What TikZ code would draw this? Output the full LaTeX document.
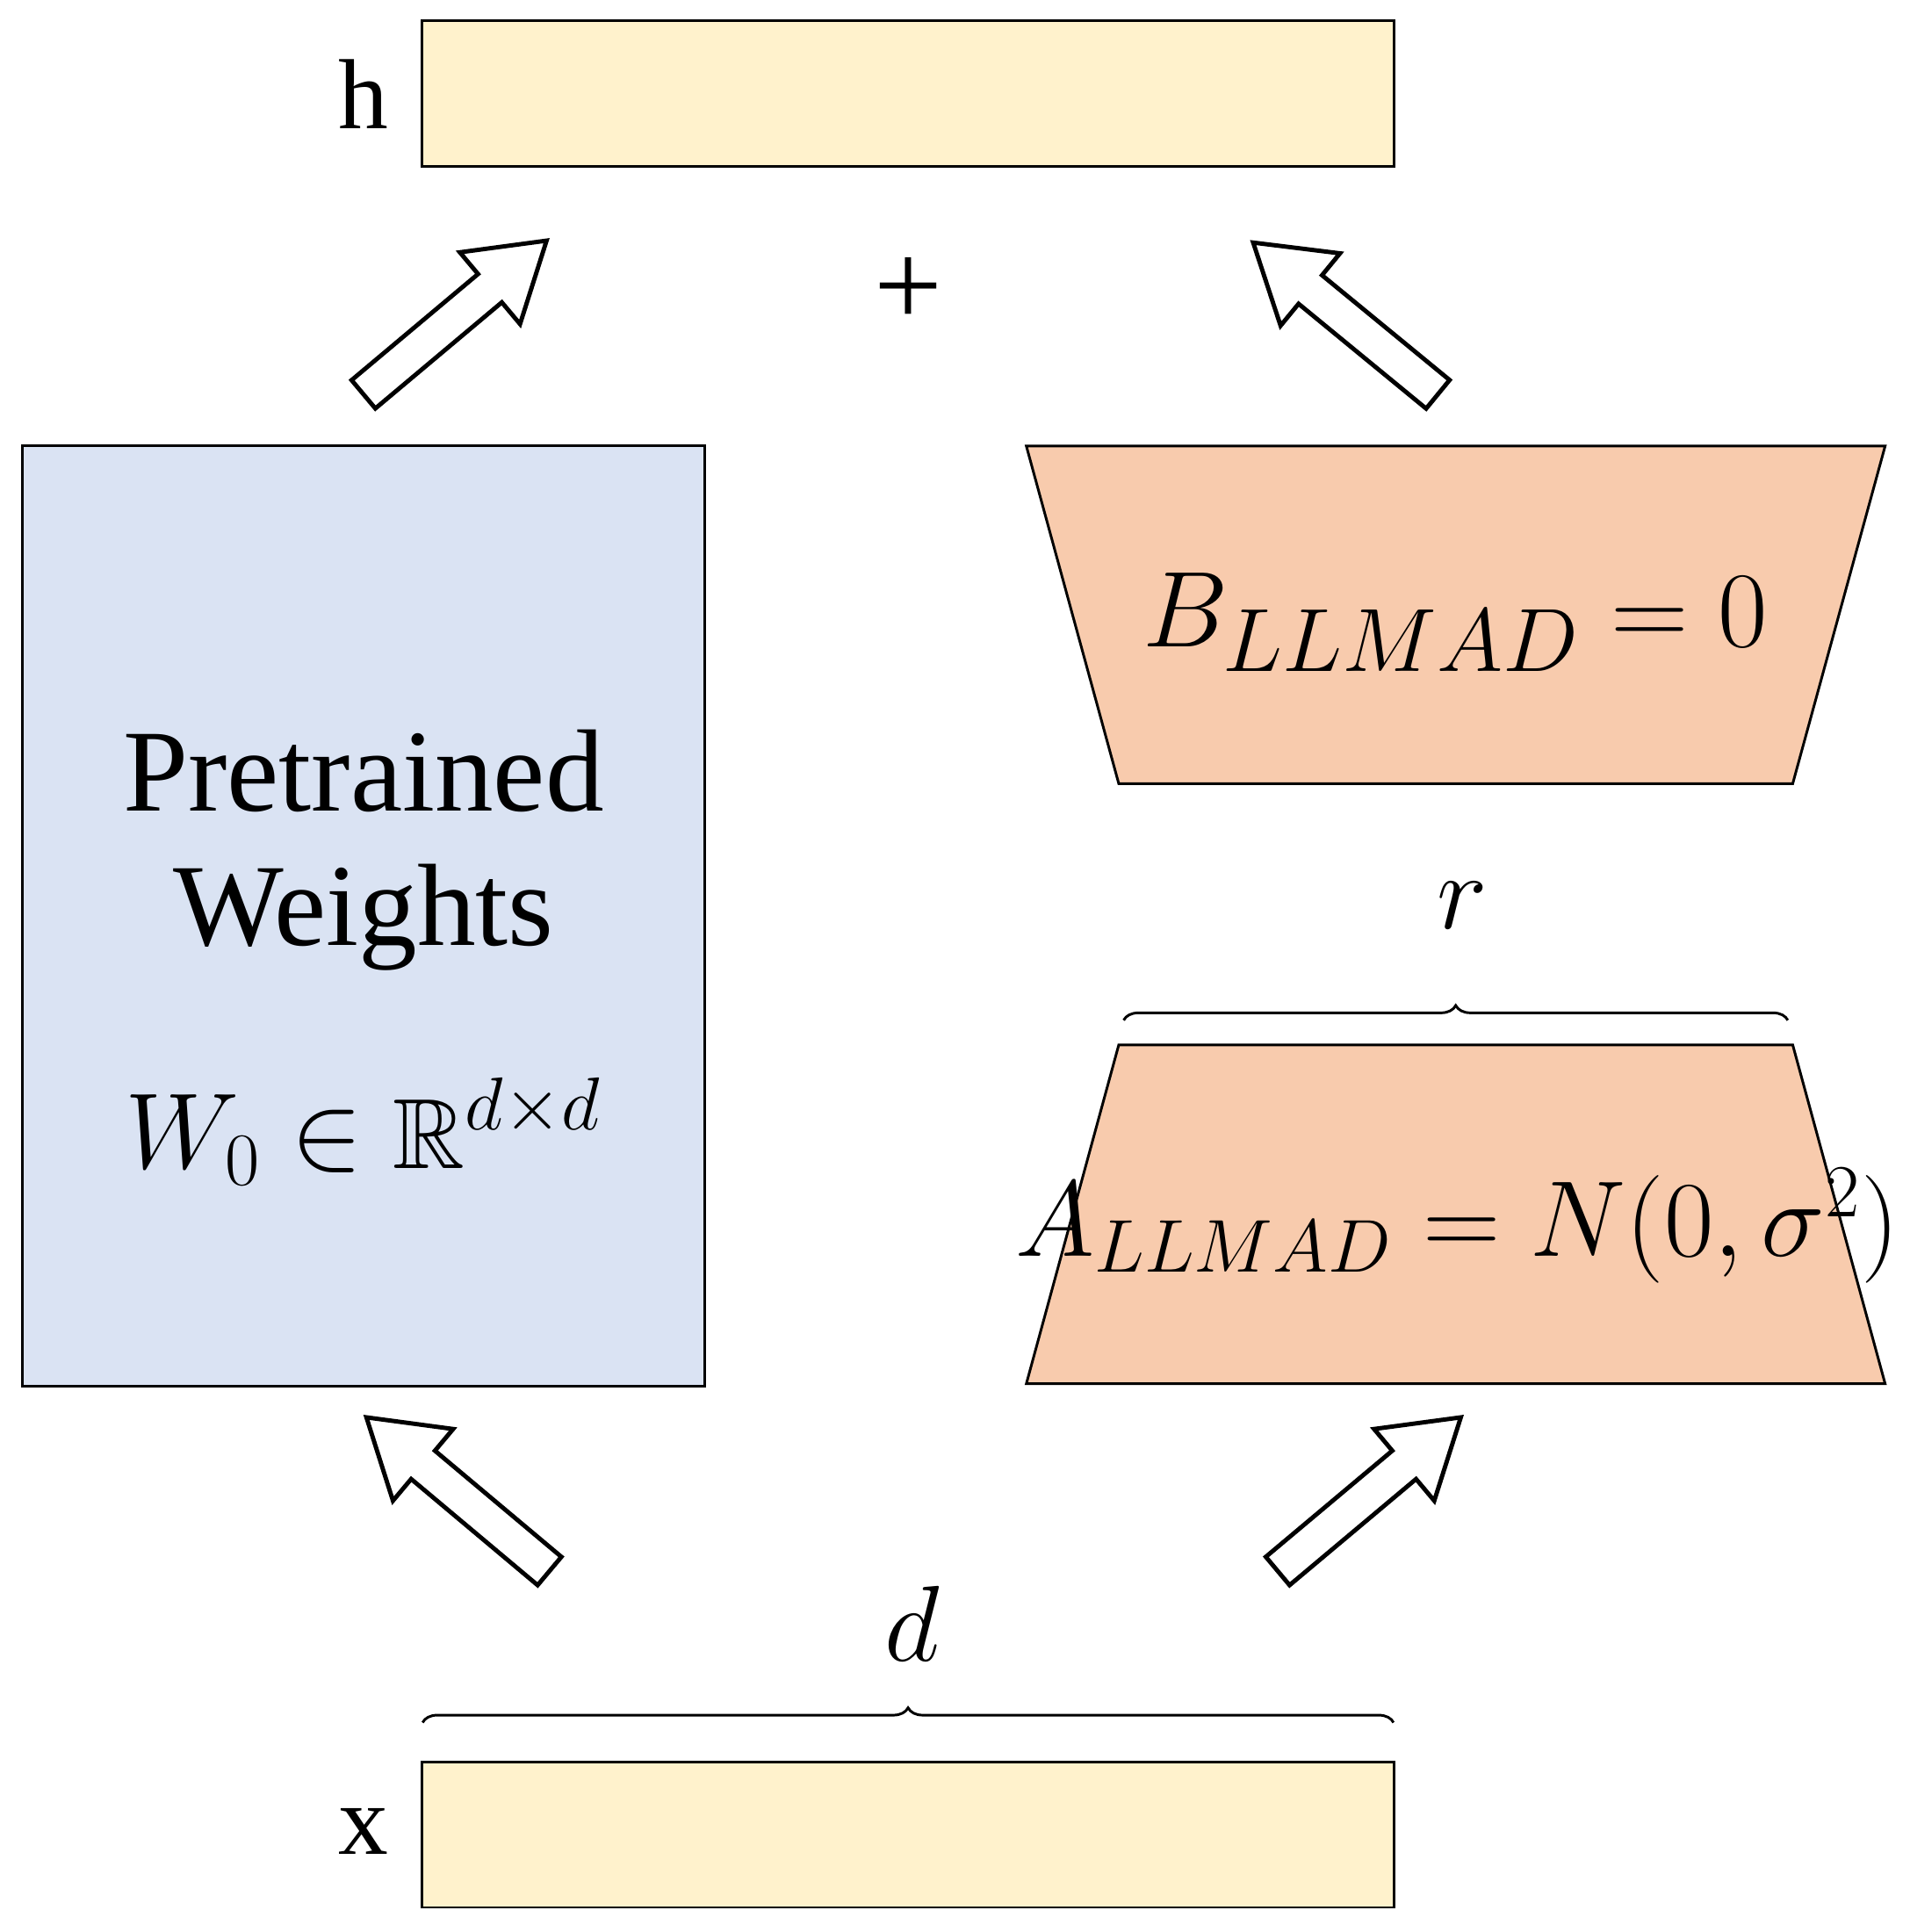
\documentclass[tikz,border=0pt]{standalone}
\usepackage{fontspec}
\usepackage{amssymb}
\setmainfont{Liberation Serif}
\usetikzlibrary{decorations.pathreplacing}
\definecolor{vec}{HTML}{FFF2CC}
\definecolor{blu}{HTML}{DAE3F3}
\definecolor{ora}{HTML}{F8CBAD}
\tikzset{
  box/.style={draw=black,line width=0.6pt},
  lbl/.style={font=\fontsize{23}{26}\selectfont},
  brc/.style={decorate,decoration={brace,amplitude=0.12cm},line width=0.6pt},
  pics/barrow/.style={code={\draw[line width=1pt,fill=white] (0,-15)--(134,-15)--(134,-38)--(194,0)--(134,38)--(134,15)--(0,15)--cycle;}}
}
\begin{document}
\begin{tikzpicture}[x=0.01cm,y=0.01cm]
\useasboundingbox (0,0) rectangle (1550,-1568);
\node[box,fill=vec,minimum width=7.88cm,minimum height=1.18cm,inner sep=0] (h) at (737,-76) {};
\node[box,fill=vec,minimum width=7.88cm,minimum height=1.18cm,inner sep=0] (x) at (737,-1489) {};
\node[lbl] (hl) at (295,-76) {h};
\node[lbl] (xl) at (295,-1486) {x};
\node[box,fill=blu,minimum width=5.54cm,minimum height=7.63cm,inner sep=0] (W) at (295,-743.5) {};
\node[align=center,font=\fontsize{27}{31}\selectfont] (pw) at (295,-690) {Pretrained\\Weights};
\node[font=\fontsize{23}{26}\selectfont] (wm) at (295,-918) {$W_0\in\mathbb{R}^{d\times d}$};
\draw[box,fill=ora] (833,-362)--(1530,-362)--(1455,-636)--(908,-636)--cycle;
\node[font=\fontsize{30}{34}\selectfont] (Bt) at (1181,-505) {$B_{LLMAD}=0$};
\draw[box,fill=ora] (908,-848)--(1455,-848)--(1530,-1123)--(833,-1123)--cycle;
\node[font=\fontsize{24}{28}\selectfont] (At) at (1183,-995) {$A_{LLMAD}=N(0,\sigma^2)$};
\coordinate (r1) at (912,-828);
\coordinate (r2) at (1451,-828);
\draw[brc] (r1)--(r2);
\node[font=\fontsize{28}{32}\selectfont] (r) at (1187,-735) {$r$};
\coordinate (d1) at (343,-1398);
\coordinate (d2) at (1131,-1398);
\draw[brc] (d1)--(d2);
\node[font=\fontsize{28}{32}\selectfont] (d) at (740,-1318) {$d$};
\node[font=\fontsize{28}{30}\selectfont] (plus) at (737,-237) {+};
\pic[rotate=40] at (295,-320) {barrow};
\pic[rotate=140.6] at (1167,-320) {barrow};
\pic[rotate=140] at (446,-1275) {barrow};
\pic[rotate=40] at (1037,-1275) {barrow};
\end{tikzpicture}
\end{document}
